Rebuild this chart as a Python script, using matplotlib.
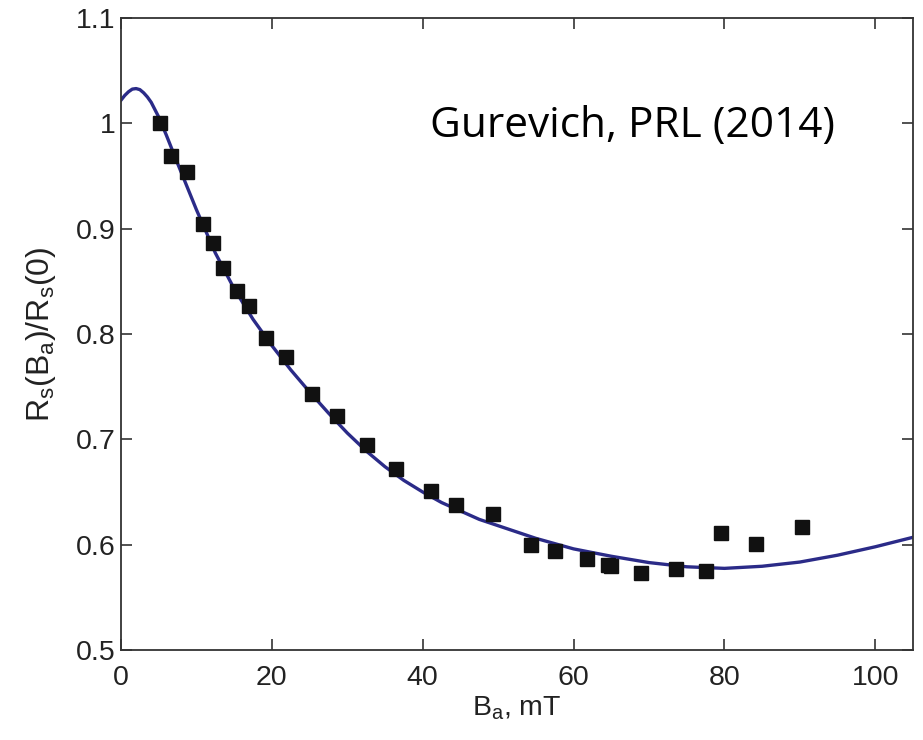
import matplotlib
matplotlib.use("Agg")
import matplotlib.pyplot as plt
from matplotlib.ticker import FuncFormatter

plt.rcParams['font.family'] = ['Liberation Sans', 'DejaVu Sans']
plt.rcParams['mathtext.fontset'] = 'custom'
plt.rcParams['mathtext.rm'] = 'Liberation Sans'
plt.rcParams['mathtext.it'] = 'Liberation Sans'

# Measured surface resistance vs applied field
field_mT = [5.2, 6.6, 8.75, 10.9, 12.2, 13.5, 15.4, 17.0, 19.2, 21.9, 25.3, 28.6,
            32.6, 36.5, 41.1, 44.4, 49.3, 54.4, 57.6, 61.8, 64.5, 65.0, 69.0,
            73.6, 77.6, 79.6, 84.2, 90.3]
rs_ratio = [1.000, 0.969, 0.954, 0.904, 0.886, 0.863, 0.841, 0.827, 0.796, 0.778,
            0.743, 0.722, 0.695, 0.672, 0.651, 0.638, 0.629, 0.600, 0.594, 0.586,
            0.581, 0.580, 0.573, 0.577, 0.575, 0.611, 0.601, 0.617]

# Theory curve
theory_B = [0, 0.5, 1, 1.5, 2, 2.5, 3, 3.5, 4, 4.5, 5, 6, 7.5, 10, 12.5, 15, 17.5,
            20, 22.5, 25, 27.5, 30, 32.5, 35, 37.5, 40, 42.5, 45, 47.5, 50, 55,
            60, 65, 70, 75, 80, 85, 90, 95, 100, 105]
theory_R = [1.022, 1.0265, 1.030, 1.0325, 1.033, 1.032, 1.029, 1.025, 1.020, 1.013,
            1.006, 0.989, 0.962, 0.918, 0.877, 0.843, 0.814, 0.789, 0.766, 0.745,
            0.725, 0.706, 0.689, 0.674, 0.661, 0.650, 0.640, 0.632, 0.624, 0.618,
            0.606, 0.596, 0.589, 0.583, 0.579, 0.5775, 0.5795, 0.5835, 0.590,
            0.598, 0.607]

x_ticks = [0, 20, 40, 60, 80, 100]
y_ticks = [0.5, 0.6, 0.7, 0.8, 0.9, 1.0, 1.1]

fig = plt.figure(figsize=(9.23, 7.40), dpi=100)
ax = fig.add_axes([121/923, 1 - 650/740, (913 - 121)/923, (650 - 18)/740])

ax.plot(theory_B, theory_R, color='#2b2b88', lw=2.4, solid_joinstyle='round', zorder=2)
ax.plot(field_mT, rs_ratio, ls='none', marker='s', ms=10, color='#111111', zorder=3)

ax.set_xlim(0, 105)
ax.set_ylim(0.5, 1.1)
ax.set_xticks(x_ticks)
ax.set_yticks(y_ticks)
ax.yaxis.set_major_formatter(FuncFormatter(lambda v, p: f"{v:g}"))
ax.tick_params(direction='in', length=8, width=1.1, labelsize=20.5, colors='#222222',
               top=True, right=True)
ax.tick_params(axis='x', pad=11)
ax.tick_params(axis='y', pad=4)
for s in ax.spines.values():
    s.set_linewidth(1.3)
    s.set_color('#333333')

ax.set_xlabel(r'B$_{\rm a}$, mT', fontsize=20.5, color='#222222', labelpad=2)
ax.set_ylabel(r'R$_{\rm s}$(B$_{\rm a}$)/R$_{\rm s}$(0)', fontsize=23, color='#222222',
              labelpad=13)

fig.text(835/923, 1 - 137/740, 'Gurevich, PRL (2014)', ha='right', va='baseline',
         fontsize=30.5, family=['Open Sans', 'DejaVu Sans'], color='black')

fig.savefig('out.png', dpi=100)
